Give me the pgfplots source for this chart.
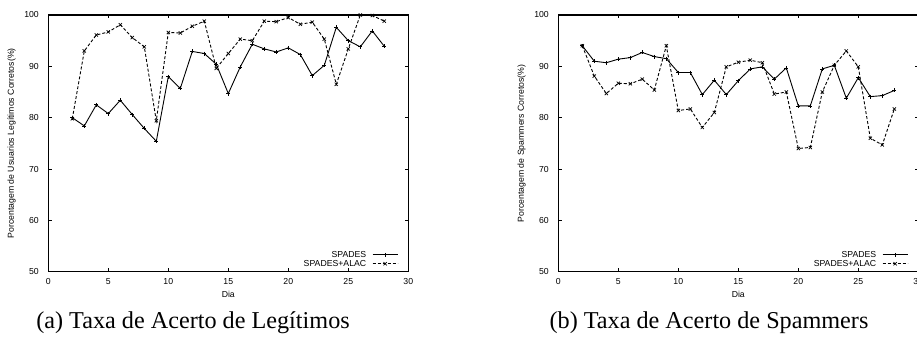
\documentclass[border=0pt]{standalone}
\usepackage{pgfplots}
\pgfplotsset{compat=1.18}
\usepackage{fontspec}
\setmainfont{Liberation Serif}
\newfontfamily\helv{Liberation Sans}
\newcommand{\plotfont}{\helv\fontsize{8.7}{9}\selectfont}

\pgfplotsset{
  spadesaxis/.style={
    scale only axis,
    width=360pt, height=256.7pt,
    xmin=0, xmax=30, ymin=50, ymax=100,
    xtick={0,5,...,30}, ytick={50,60,...,100},
    tick align=inside,
    major tick length=3.5pt,
    axis line style={line width=1.1pt},
    every tick/.style={black, line width=0.8pt},
    /pgf/number format/assume math mode=true,
    tick label style={font=\plotfont},
    xticklabel style={yshift=-3pt},
    yticklabel style={xshift=-6pt},
    every axis x label/.style={at={(axis description cs:0.5,0)}, anchor=center, yshift=-22.3pt, font=\plotfont},
    every axis y label/.style={at={(axis description cs:-0.1017,0.5)}, anchor=center, rotate=90, font=\plotfont},
    xlabel={Dia},
    legend plot pos=right,
    legend cell align=right,
    legend style={draw=none, fill=none, font=\plotfont, inner sep=0pt,
      at={(axis description cs:1,0)}, anchor=south east, xshift=-10pt, yshift=3.2pt,
      column sep=6pt, row sep=0pt,
      nodes={inner sep=0pt, text height=6.2pt, text depth=0pt, minimum height=9pt}},
    legend image code/.code={\draw[mark repeat=2,mark phase=2,#1] plot coordinates {(0pt,0pt) (12.5pt,0pt) (25pt,0pt)};},
  },
  spades/.style={black, line width=0.9pt, mark=+, mark size=2pt, mark options={solid, line width=0.7pt}},
  alac/.style={black, line width=0.9pt, dash pattern=on 3pt off 2pt, mark=x, mark size=2.3pt, mark options={solid, line width=0.7pt}},
}

\begin{document}
\begin{tikzpicture}[x=1pt,y=1pt]
\begin{axis}[spadesaxis, at={(48.3pt,71.3pt)}, anchor=south west,
  ylabel={Porcentagem de Usuarios Legítimos Corretos(\%)}]
\addplot[spades] coordinates {
(2,80.0) (3,78.4) (4,82.5) (5,80.8) (6,83.4) (7,80.6) (8,77.9) (9,75.4) (10,88.0)
(11,85.7) (12,92.9) (13,92.5) (14,90.4) (15,84.7) (16,89.9) (17,94.3) (18,93.4)
(19,92.8) (20,93.6) (21,92.3) (22,88.2) (23,90.2) (24,97.6) (25,95.0) (26,93.8)
(27,96.9) (28,93.9)};
\addlegendentry{SPADES}
\addplot[alac] coordinates {
(2,79.8) (3,93.0) (4,96.1) (5,96.7) (6,98.1) (7,95.6) (8,93.8) (9,79.4) (10,96.6)
(11,96.5) (12,97.8) (13,98.8) (14,89.6) (15,92.5) (16,95.3) (17,95.0) (18,98.8)
(19,98.7) (20,99.5) (21,98.2) (22,98.6) (23,95.3) (24,86.5) (25,93.4) (26,100.0)
(27,99.9) (28,98.8)};
\addlegendentry{SPADES+ALAC}
\end{axis}

\begin{axis}[spadesaxis, at={(558.3pt,71.3pt)}, anchor=south west,
  ylabel={Porcentagem de Spammers Corretos(\%)}]
\addplot[spades] coordinates {
(2,94.0) (3,91.0) (4,90.7) (5,91.4) (6,91.7) (7,92.7) (8,91.9) (9,91.5) (10,88.8)
(11,88.8) (12,84.5) (13,87.3) (14,84.5) (15,87.2) (16,89.5) (17,89.9) (18,87.5)
(19,89.7) (20,82.3) (21,82.3) (22,89.5) (23,90.2) (24,83.8) (25,87.8) (26,84.1)
(27,84.3) (28,85.3)};
\addlegendentry{SPADES}
\addplot[alac] coordinates {
(2,94.0) (3,88.1) (4,84.7) (5,86.7) (6,86.6) (7,87.5) (8,85.4) (9,94.0) (10,81.4)
(11,81.7) (12,78.1) (13,81.0) (14,89.9) (15,90.8) (16,91.2) (17,90.7) (18,84.6)
(19,85.0) (20,74.0) (21,74.2) (22,85.0) (23,90.2) (24,93.0) (25,89.9) (26,76.0)
(27,74.7) (28,81.7)};
\addlegendentry{SPADES+ALAC}
\end{axis}

\node[anchor=base, font=\fontsize{24.2}{28}\selectfont] at (193pt,15pt) {(a) Taxa de Acerto de Legítimos};
\node[anchor=base, font=\fontsize{24.2}{28}\selectfont] at (709pt,15pt) {(b) Taxa de Acerto de Spammers};

\pgfresetboundingbox
\path[use as bounding box] (0pt,0pt) rectangle (917pt,343pt);
\end{tikzpicture}
\end{document}
